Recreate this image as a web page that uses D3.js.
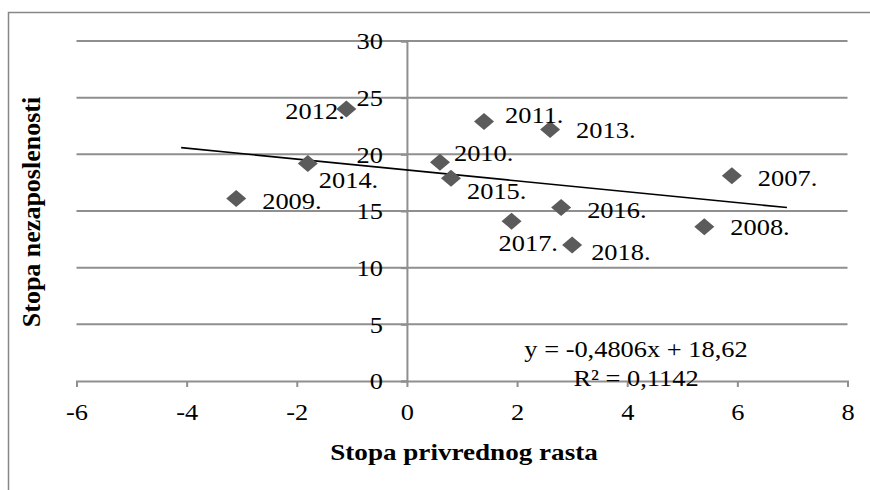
<!DOCTYPE html>
<html><head><meta charset="utf-8">
<script src="https://cdn.jsdelivr.net/npm/d3@7"></script>
<style>
body{margin:0;background:#fff}
svg{display:block}
text{font-family:"Liberation Serif","Times New Roman",serif;fill:#000}
</style></head>
<body><svg id="chart" width="870" height="490"></svg>
<script>
// ---- data ----
const years = ["2007.","2008.","2009.","2010.","2011.","2012.","2013.","2014.","2015.","2016.","2017.","2018."];
const growth = [5.9, 5.4, -3.1, 0.6, 1.4, -1.1, 2.6, -1.8, 0.8, 2.8, 1.9, 3.0];
const unemployment = [18.1, 13.6, 16.1, 19.3, 22.9, 24.0, 22.2, 19.2, 17.9, 15.3, 14.1, 12.0];
const xTicks = [-6, -4, -2, 0, 2, 4, 6, 8];
const yTicks = [0, 5, 10, 15, 20, 25, 30];
const slope = -0.4806, intercept = 18.62;
const eqLabel = "y = -0,4806x + 18,62";
const r2Label = "R² = 0,1142";
const xTitle = "Stopa privrednog rasta";
const yTitle = "Stopa nezaposlenosti";

// ---- layout (label offsets in px from marker centre: text start, baseline) ----
const labelOffsets = {
  "2007.":[26,10], "2008.":[26,8], "2009.":[26,10], "2010.":[14,-1],
  "2011.":[21,2], "2012.":[-61,10], "2013.":[26,9], "2014.":[11,25],
  "2015.":[16,21], "2016.":[26,10], "2017.":[-13,30], "2018.":[19,15]
};
const SX = 1.1, FS = 24;

const svg = d3.select("#chart");
const x = d3.scaleLinear().domain([-6, 8]).range([76.5, 847.5]);
const y = d3.scaleLinear().domain([0, 30]).range([381, 41]);

// outer frame
svg.append("path").attr("d","M8.5,490V12.5H870").attr("fill","none")
  .attr("stroke","#878787").attr("stroke-width",1.5);

// gridlines
svg.append("g").selectAll("line").data(yTicks.filter(d=>d!==0)).join("line")
  .attr("x1", x(-6)).attr("x2", x(8)).attr("y1", d=>y(d)).attr("y2", d=>y(d))
  .attr("stroke","#8f8f8f").attr("stroke-width",2);

function stretchTexts(sel){
  sel.each(function(){
    const t = d3.select(this);
    const tx = +t.attr("x") || 0, ty = +t.attr("y") || 0;
    t.attr("transform", `translate(${tx},${ty}) scale(${SX},1)`).attr("x",0).attr("y",0);
  });
}

// x axis
const gx = svg.append("g").attr("transform", `translate(0,${y(0)})`)
  .call(d3.axisBottom(x).tickValues(xTicks).tickSize(6).tickPadding(16).tickFormat(d3.format("d")));
gx.select(".domain").attr("stroke","#8f8f8f").attr("stroke-width",2);
gx.selectAll(".tick line").attr("stroke","#8f8f8f").attr("stroke-width",2);
gx.selectAll("text").attr("font-size",FS).attr("font-family","Liberation Serif").attr("fill","#000")
  .text(d=>d<0 ? "-"+Math.abs(d) : d);
stretchTexts(gx.selectAll("text"));

// y axis
const gy = svg.append("g").attr("transform", `translate(${x(0)},0)`)
  .call(d3.axisLeft(y).tickValues(yTicks).tickSize(6).tickPadding(18));
gy.select(".domain").attr("stroke","#8f8f8f").attr("stroke-width",2);
gy.selectAll(".tick line").attr("stroke","#8f8f8f").attr("stroke-width",2);
gy.selectAll("text").attr("font-size",FS).attr("font-family","Liberation Serif").attr("fill","#000");
stretchTexts(gy.selectAll("text"));

// trendline
const tMin = d3.min(growth) - 1, tMax = d3.max(growth) + 1;
svg.append("line")
  .attr("x1", x(tMin)).attr("y1", y(slope*tMin+intercept))
  .attr("x2", x(tMax)).attr("y2", y(slope*tMax+intercept))
  .attr("stroke","#000").attr("stroke-width",1.6);

// markers
const pts = years.map((yr,i)=>({yr, gx:growth[i], un:unemployment[i]}));
svg.append("g").selectAll("path").data(pts).join("path")
  .attr("transform", d=>`translate(${x(d.gx)},${y(d.un)})`)
  .attr("d","M0,-8.5L10,0L0,8.5L-10,0Z").attr("fill","#5b5b5b");

// data labels
svg.append("g").selectAll("text").data(pts).join("text")
  .attr("font-size",FS)
  .attr("transform", d=>{const o=labelOffsets[d.yr];return `translate(${x(d.gx)+o[0]},${y(d.un)+o[1]}) scale(${SX},1)`;})
  .text(d=>d.yr);

// equation
svg.append("text").attr("font-size",FS).attr("text-anchor","middle")
  .attr("transform",`translate(636,357) scale(${SX},1)`).text(eqLabel);
svg.append("text").attr("font-size",FS).attr("text-anchor","middle")
  .attr("transform",`translate(636,386) scale(${SX},1)`).text(r2Label);

// axis titles
svg.append("text").attr("font-size",FS).attr("font-weight","bold").attr("text-anchor","middle")
  .attr("transform",`translate(464,460) scale(1.13,1)`).text(xTitle);
svg.append("text").attr("font-size",26).attr("font-weight","bold").attr("text-anchor","middle")
  .attr("transform","translate(40,212) rotate(-90)").text(yTitle);
</script></body></html>
